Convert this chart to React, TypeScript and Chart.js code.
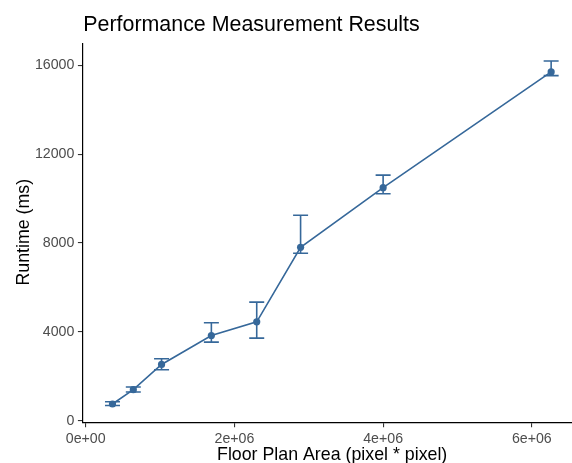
import React, { useEffect, useRef } from "react";
import { Chart, registerables } from "chart.js";

Chart.register(...registerables);

const areas = [360000, 640000, 1020000, 1690000, 2300000, 2890000, 4000000, 6260000];
const runtimeMean = [750, 1395, 2530, 3835, 4450, 7805, 10490, 15700];
const runtimeLow = [680, 1290, 2290, 3535, 3715, 7535, 10215, 15535];
const runtimeHigh = [850, 1515, 2790, 4405, 5335, 9245, 11055, 16195];

const xTicks = [0, 2000000, 4000000, 6000000];
const xTickLabels = ["0e+00", "2e+06", "4e+06", "6e+06"];
const yTicks = [0, 4000, 8000, 12000, 16000];
const yTickLabels = ["0", "4000", "8000", "12000", "16000"];

const titleText = "Performance Measurement Results";
const xTitle = "Floor Plan Area (pixel * pixel)";
const yTitle = "Runtime (ms)";

const COLOR = "#36689a";
const FONT = "'Liberation Sans', Arial, sans-serif";

export default function App() {
  const ref = useRef<HTMLCanvasElement | null>(null);

  useEffect(() => {
    if (!ref.current) return;
    const errorBars = {
      id: "errorBars",
      afterDatasetsDraw(chart: any) {
        const { ctx, scales } = chart;
        const xs = scales.x;
        const ys = scales.y;
        ctx.save();
        ctx.strokeStyle = COLOR;
        ctx.lineWidth = 1.6;
        const hw = 7.5;
        for (let i = 0; i < areas.length; i++) {
          const px = xs.getPixelForValue(areas[i]);
          const lo = ys.getPixelForValue(runtimeLow[i]);
          const hi = ys.getPixelForValue(runtimeHigh[i]);
          ctx.beginPath();
          ctx.moveTo(px, lo);
          ctx.lineTo(px, hi);
          ctx.moveTo(px - hw, lo);
          ctx.lineTo(px + hw, lo);
          ctx.moveTo(px - hw, hi);
          ctx.lineTo(px + hw, hi);
          ctx.stroke();
        }
        ctx.restore();
      },
    };
    const titles = {
      id: "titles",
      afterDraw(chart: any) {
        const { ctx, chartArea } = chart;
        ctx.save();
        ctx.fillStyle = "#000";
        ctx.textBaseline = "alphabetic";
        ctx.font = `21.4px ${FONT}`;
        ctx.textAlign = "left";
        ctx.fillText(titleText, chartArea.left + 1, 31);
        ctx.font = `17.8px ${FONT}`;
        ctx.textAlign = "center";
        ctx.fillText(xTitle, (chartArea.left + chartArea.right) / 2, 460);
        ctx.translate(29.3, (chartArea.top + chartArea.bottom) / 2 - 1);
        ctx.rotate(-Math.PI / 2);
        ctx.fillText(yTitle, 0, 0);
        ctx.restore();
      },
    };
    const chart = new Chart(ref.current, {
      type: "line",
      data: {
        datasets: [
          {
            data: areas.map((a, i) => ({ x: a, y: runtimeMean[i] })),
            borderColor: COLOR,
            backgroundColor: COLOR,
            borderWidth: 1.6,
            pointRadius: 3.6,
            pointBorderWidth: 0,
            pointBackgroundColor: COLOR,
            tension: 0,
          },
        ],
      },
      options: {
        animation: false,
        responsive: false,
        devicePixelRatio: 1,
        layout: { padding: { left: 0, top: 43.7, right: 8, bottom: 0 } },
        plugins: { legend: { display: false }, tooltip: { enabled: false }, title: { display: false } },
        scales: {
          x: {
            type: "linear",
            min: -46000,
            max: 6675000,
            afterFit(scale: any) {
              scale.height = 40.2;
            },
            afterBuildTicks(scale: any) {
              scale.ticks = xTicks.map((v) => ({ value: v }));
            },
            ticks: {
              autoSkip: false,
              maxRotation: 0,
              padding: 3,
              color: "#4d4d4d",
              font: { family: FONT, size: 14.2 },
              callback: (_v: any, i: number) => xTickLabels[i],
            },
            grid: { display: true, drawOnChartArea: false, tickLength: 4.4, tickColor: "#333333", lineWidth: 1.1 },
            border: { display: true, color: "#000", width: 1.2 },
          },
          y: {
            type: "linear",
            min: -96,
            max: 16971,
            afterFit(scale: any) {
              scale.width = 82.3;
            },
            afterBuildTicks(scale: any) {
              scale.ticks = yTicks.map((v) => ({ value: v }));
            },
            ticks: {
              autoSkip: false,
              padding: 3.5,
              color: "#4d4d4d",
              font: { family: FONT, size: 14.2 },
              callback: (_v: any, i: number) => yTickLabels[i],
            },
            grid: { display: true, drawOnChartArea: false, tickLength: 4.4, tickColor: "#333333", lineWidth: 1.1 },
            border: { display: true, color: "#000", width: 1.2 },
          },
        },
      },
      plugins: [errorBars, titles],
    });
    return () => chart.destroy();
  }, []);

  return (
    <div style={{ position: "fixed", left: 0, top: 0, width: 572, height: 463, overflow: "hidden", background: "#fff" }}>
      <canvas ref={ref} width={590} height={463} style={{ width: 590, height: 463, display: "block" }} />
    </div>
  );
}
